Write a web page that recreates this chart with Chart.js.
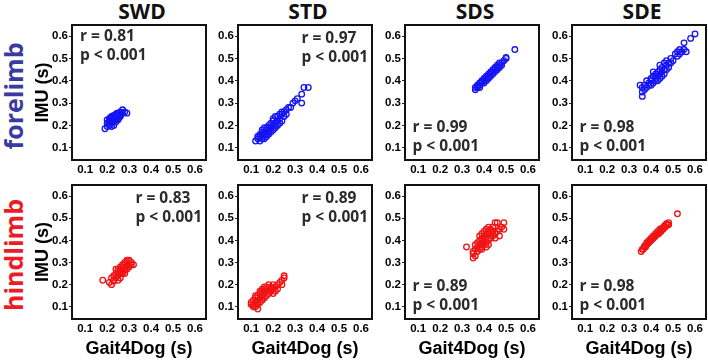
<!DOCTYPE html>
<html>
<head>
<meta charset="utf-8">
<script src="https://cdn.jsdelivr.net/npm/chart.js@4.4.1/dist/chart.umd.min.js"></script>
<style>
  html, body { margin: 0; padding: 0; background: #fff; }
  #fig { position: relative; width: 708px; height: 360px; overflow: hidden; }
  #fig canvas { position: absolute; }
  .col-title { position: absolute; top: 11px; transform: translate(-50%, -50%); font: bold 21px "Open Sans"; color: #111; white-space: nowrap; line-height: 1; }
  .row-label { position: absolute; transform: translate(-50%, -50%) rotate(-90deg); font: bold 25px "Open Sans"; white-space: nowrap; line-height: 1; }
</style>
</head>
<body>
<div id="fig"></div>
<script>
const columns = ["SWD", "STD", "SDS", "SDE"];
const rows = ["forelimb", "hindlimb"];
const tickValues = [0.1, 0.2, 0.3, 0.4, 0.5, 0.6];
const rValues = [[0.81, 0.97, 0.99, 0.98], [0.83, 0.89, 0.89, 0.98]];
const pText = "p < 0.001";

// forelimb
const foreSwdX = [0.19, 0.20, 0.20, 0.21, 0.21, 0.21, 0.22, 0.22, 0.22, 0.22, 0.23, 0.23, 0.23, 0.23, 0.24, 0.24, 0.24, 0.24, 0.25, 0.25, 0.25, 0.25, 0.26, 0.26, 0.26, 0.27, 0.27, 0.28, 0.29, 0.20, 0.21, 0.22, 0.23, 0.24, 0.25, 0.26, 0.215, 0.235, 0.245, 0.255];
const foreSwdY = [0.185, 0.195, 0.21, 0.20, 0.22, 0.23, 0.21, 0.225, 0.235, 0.24, 0.22, 0.23, 0.245, 0.20, 0.225, 0.235, 0.25, 0.215, 0.235, 0.245, 0.255, 0.225, 0.24, 0.25, 0.26, 0.27, 0.255, 0.26, 0.255, 0.225, 0.215, 0.195, 0.24, 0.24, 0.23, 0.245, 0.235, 0.23, 0.255, 0.25];

const foreStdX = [0.12, 0.13, 0.13, 0.14, 0.14, 0.14, 0.15, 0.15, 0.15, 0.15, 0.16, 0.16, 0.16, 0.16, 0.17, 0.17, 0.17, 0.17, 0.18, 0.18, 0.18, 0.18, 0.19, 0.19, 0.19, 0.20, 0.20, 0.20, 0.20, 0.21, 0.21, 0.21, 0.22, 0.22, 0.22, 0.23, 0.23, 0.24, 0.24, 0.24, 0.25, 0.25, 0.26, 0.26, 0.27, 0.28, 0.29, 0.30, 0.31, 0.33, 0.33, 0.34, 0.36, 0.15, 0.17, 0.19, 0.21, 0.23];
const foreStdY = [0.13, 0.14, 0.15, 0.13, 0.15, 0.16, 0.14, 0.15, 0.17, 0.18, 0.14, 0.16, 0.17, 0.19, 0.15, 0.17, 0.18, 0.19, 0.16, 0.17, 0.19, 0.20, 0.17, 0.19, 0.21, 0.18, 0.20, 0.22, 0.23, 0.19, 0.21, 0.24, 0.20, 0.22, 0.24, 0.21, 0.23, 0.22, 0.25, 0.26, 0.24, 0.26, 0.25, 0.27, 0.28, 0.28, 0.30, 0.31, 0.32, 0.30, 0.34, 0.37, 0.37, 0.16, 0.16, 0.18, 0.20, 0.25];

const foreSdsX = [0.36, 0.36, 0.37, 0.37, 0.38, 0.38, 0.38, 0.39, 0.39, 0.40, 0.40, 0.40, 0.41, 0.41, 0.41, 0.42, 0.42, 0.42, 0.43, 0.43, 0.43, 0.44, 0.44, 0.44, 0.45, 0.45, 0.45, 0.46, 0.46, 0.46, 0.47, 0.47, 0.47, 0.48, 0.48, 0.49, 0.50, 0.50, 0.54, 0.37, 0.39, 0.43, 0.45];
const foreSdsY = [0.36, 0.37, 0.37, 0.38, 0.38, 0.39, 0.37, 0.39, 0.40, 0.40, 0.41, 0.39, 0.41, 0.42, 0.40, 0.42, 0.43, 0.41, 0.43, 0.44, 0.42, 0.44, 0.45, 0.43, 0.44, 0.46, 0.45, 0.45, 0.47, 0.46, 0.46, 0.48, 0.47, 0.47, 0.48, 0.49, 0.50, 0.505, 0.54, 0.375, 0.395, 0.435, 0.455];

const foreSdeX = [0.35, 0.36, 0.36, 0.37, 0.37, 0.38, 0.38, 0.39, 0.39, 0.40, 0.40, 0.40, 0.41, 0.41, 0.42, 0.42, 0.42, 0.43, 0.43, 0.43, 0.44, 0.44, 0.44, 0.45, 0.45, 0.45, 0.46, 0.46, 0.47, 0.47, 0.47, 0.48, 0.48, 0.49, 0.49, 0.50, 0.51, 0.52, 0.52, 0.53, 0.53, 0.54, 0.55, 0.55, 0.56, 0.58, 0.60, 0.36, 0.41, 0.44, 0.46];
const foreSdeY = [0.38, 0.37, 0.33, 0.38, 0.36, 0.40, 0.37, 0.39, 0.38, 0.41, 0.40, 0.38, 0.42, 0.39, 0.43, 0.41, 0.40, 0.44, 0.42, 0.40, 0.45, 0.43, 0.41, 0.46, 0.44, 0.42, 0.48, 0.45, 0.49, 0.47, 0.45, 0.48, 0.46, 0.50, 0.48, 0.49, 0.52, 0.53, 0.51, 0.54, 0.52, 0.53, 0.57, 0.54, 0.53, 0.59, 0.61, 0.35, 0.44, 0.47, 0.43];

// hindlimb
const hindSwdX = [0.18, 0.21, 0.22, 0.22, 0.23, 0.23, 0.24, 0.24, 0.24, 0.25, 0.25, 0.25, 0.25, 0.26, 0.26, 0.26, 0.26, 0.27, 0.27, 0.27, 0.27, 0.28, 0.28, 0.28, 0.28, 0.29, 0.29, 0.29, 0.29, 0.30, 0.30, 0.30, 0.31, 0.31, 0.32, 0.23, 0.26, 0.28, 0.24];
const hindSwdY = [0.22, 0.21, 0.20, 0.23, 0.22, 0.24, 0.23, 0.25, 0.27, 0.24, 0.26, 0.27, 0.22, 0.25, 0.27, 0.28, 0.23, 0.26, 0.28, 0.25, 0.29, 0.27, 0.29, 0.30, 0.25, 0.28, 0.30, 0.31, 0.27, 0.29, 0.31, 0.28, 0.30, 0.29, 0.29, 0.215, 0.26, 0.265, 0.24];

const hindStdX = [0.10, 0.10, 0.11, 0.11, 0.11, 0.12, 0.12, 0.12, 0.12, 0.13, 0.13, 0.13, 0.13, 0.14, 0.14, 0.14, 0.14, 0.15, 0.15, 0.15, 0.15, 0.16, 0.16, 0.16, 0.16, 0.17, 0.17, 0.17, 0.18, 0.18, 0.18, 0.19, 0.19, 0.20, 0.20, 0.20, 0.21, 0.21, 0.22, 0.22, 0.23, 0.24, 0.24, 0.25, 0.25, 0.13, 0.15];
const hindStdY = [0.11, 0.12, 0.10, 0.13, 0.11, 0.12, 0.14, 0.10, 0.15, 0.13, 0.09, 0.15, 0.11, 0.14, 0.16, 0.12, 0.17, 0.15, 0.17, 0.13, 0.18, 0.16, 0.18, 0.14, 0.19, 0.17, 0.19, 0.15, 0.18, 0.20, 0.16, 0.17, 0.19, 0.18, 0.20, 0.16, 0.19, 0.17, 0.18, 0.20, 0.21, 0.22, 0.20, 0.24, 0.23, 0.12, 0.14];

const hindSdsX = [0.32, 0.35, 0.35, 0.35, 0.36, 0.36, 0.36, 0.37, 0.37, 0.37, 0.38, 0.38, 0.38, 0.38, 0.39, 0.39, 0.39, 0.39, 0.40, 0.40, 0.40, 0.40, 0.41, 0.41, 0.41, 0.41, 0.42, 0.42, 0.42, 0.42, 0.43, 0.43, 0.43, 0.44, 0.44, 0.44, 0.45, 0.45, 0.45, 0.46, 0.46, 0.47, 0.47, 0.48, 0.49, 0.49, 0.39, 0.41];
const hindSdsY = [0.37, 0.32, 0.34, 0.35, 0.33, 0.36, 0.38, 0.35, 0.37, 0.39, 0.36, 0.38, 0.40, 0.42, 0.37, 0.39, 0.41, 0.43, 0.38, 0.40, 0.42, 0.44, 0.39, 0.41, 0.43, 0.45, 0.38, 0.40, 0.44, 0.46, 0.41, 0.43, 0.45, 0.42, 0.44, 0.46, 0.41, 0.43, 0.48, 0.44, 0.48, 0.42, 0.45, 0.46, 0.48, 0.45, 0.36, 0.37];

const hindSdeX = [0.355, 0.36, 0.365, 0.37, 0.37, 0.375, 0.38, 0.38, 0.385, 0.39, 0.39, 0.395, 0.40, 0.40, 0.405, 0.41, 0.41, 0.415, 0.42, 0.42, 0.425, 0.43, 0.43, 0.435, 0.44, 0.44, 0.445, 0.45, 0.45, 0.455, 0.46, 0.46, 0.465, 0.47, 0.47, 0.475, 0.48, 0.48, 0.52];
const hindSdeY = [0.35, 0.36, 0.36, 0.37, 0.375, 0.37, 0.38, 0.39, 0.385, 0.39, 0.40, 0.395, 0.40, 0.41, 0.405, 0.41, 0.42, 0.415, 0.42, 0.43, 0.425, 0.43, 0.44, 0.43, 0.44, 0.45, 0.44, 0.45, 0.455, 0.45, 0.46, 0.465, 0.46, 0.47, 0.475, 0.47, 0.48, 0.47, 0.52];

const panelData = [
  [foreSwdX, foreSwdY], [foreStdX, foreStdY], [foreSdsX, foreSdsY], [foreSdeX, foreSdeY],
  [hindSwdX, hindSwdY], [hindStdX, hindStdY], [hindSdsX, hindSdsY], [hindSdeX, hindSdeY],
];

// layout
const colLeft = [72, 238, 405, 572];
const boxW = 134;
const rowTop = [25, 185];
const boxH = [135, 134];
const corners = ["tl", "tr", "bl", "bl", "tr", "tr", "bl", "bl"];
const rowColors = ["rgb(58, 58, 160)", "rgb(236, 28, 36)"];
const pointColors = ["rgb(20, 20, 245)", "rgb(240, 20, 20)"];

const fig = document.getElementById("fig");

columns.forEach((name, c) => {
  const d = document.createElement("div");
  d.className = "col-title";
  d.textContent = name;
  d.style.left = (colLeft[c] + boxW / 2 + 3) + "px";
  fig.appendChild(d);
});

rows.forEach((name, r) => {
  const d = document.createElement("div");
  d.className = "row-label";
  d.textContent = name;
  d.style.color = rowColors[r];
  d.style.left = "13px";
  d.style.top = (rowTop[r] + boxH[r] / 2 + 3) + "px";
  fig.appendChild(d);
});

const frame = {
  id: "frame",
  afterDraw(chart, args, opts) {
    const { ctx, chartArea: a } = chart;
    ctx.save();
    ctx.lineWidth = 2;
    ctx.strokeStyle = "#111";
    ctx.strokeRect(a.left, a.top, a.right - a.left, a.bottom - a.top);
    ctx.font = "bold 15.5px 'Open Sans'";
    ctx.fillStyle = "#2b2b2b";
    ctx.textBaseline = "alphabetic";
    const lines = opts.lines;
    const w = Math.max(...lines.map(t => ctx.measureText(t).width));
    let x, y0;
    if (opts.corner === "tl") { x = a.left + 8; y0 = a.top + 16; }
    else if (opts.corner === "tr") { x = a.right - 4 - w; y0 = a.top + 18; }
    else { x = a.left + 7.5; y0 = a.bottom - 28; }
    lines.forEach((t, i) => ctx.fillText(t, x, y0 + i * 18.5));
    ctx.restore();
  }
};

const tickFont = { family: "Liberation Sans", weight: "bold", size: 11.5 };
const titleFont = { family: "Liberation Sans", weight: "bold", size: 18 };

panelData.forEach(([xs, ys], i) => {
  const r = Math.floor(i / 4), c = i % 4;
  const L = colLeft[c], T = rowTop[r], H = boxH[r];
  const padL = c === 0 ? 44 : 34;
  const padT = 10;
  const padR = 8;
  const padB = r === 1 ? 360 - (T + H) : 22;

  const canvas = document.createElement("canvas");
  canvas.width = padL + boxW + padR;
  canvas.height = padT + H + padB;
  canvas.style.left = (L - padL) + "px";
  canvas.style.top = (T - padT) + "px";
  fig.appendChild(canvas);

  new Chart(canvas.getContext("2d"), {
    type: "scatter",
    data: {
      datasets: [{
        data: xs.map((x, k) => ({ x: x, y: ys[k] })),
        borderColor: pointColors[r],
        backgroundColor: "rgba(0,0,0,0)",
        pointRadius: 2.8,
        pointBorderWidth: 1.3,
      }],
    },
    plugins: [frame],
    options: {
      responsive: false,
      animation: false,
      layout: { padding: { left: 0, top: padT, right: padR, bottom: 0 } },
      plugins: {
        legend: { display: false },
        tooltip: { enabled: false },
        frame: { corner: corners[i], lines: ["r = " + rValues[r][c].toFixed(2), pText] },
      },
      scales: {
        x: {
          type: "linear",
          min: 0.04,
          max: 0.65,
          afterBuildTicks: s => { s.ticks = tickValues.map(v => ({ value: v })); },
          afterFit: s => { s.height = padB; },
          ticks: { font: tickFont, color: "#000", padding: 3, maxRotation: 0, autoSkip: false, callback: v => v.toFixed(1) },
          grid: { display: false, drawTicks: false },
          border: { display: false },
          title: { display: r === 1, text: "Gait4Dog (s)", font: titleFont, color: "#000", padding: { top: 0, bottom: 0 } },
        },
        y: {
          type: "linear",
          min: 0.045,
          max: 0.65,
          afterBuildTicks: s => { s.ticks = tickValues.map(v => ({ value: v })); },
          afterFit: s => { s.width = padL; },
          ticks: { font: tickFont, color: "#000", padding: 1, autoSkip: false, callback: v => v.toFixed(1) },
          grid: { drawOnChartArea: false, drawTicks: true, tickLength: 3, color: "#222" },
          border: { display: false },
          title: { display: c === 0, text: "IMU (s)", font: titleFont, color: "#000", padding: { top: 4, bottom: 0 } },
        },
      },
    },
  });
});
</script>
</body>
</html>
